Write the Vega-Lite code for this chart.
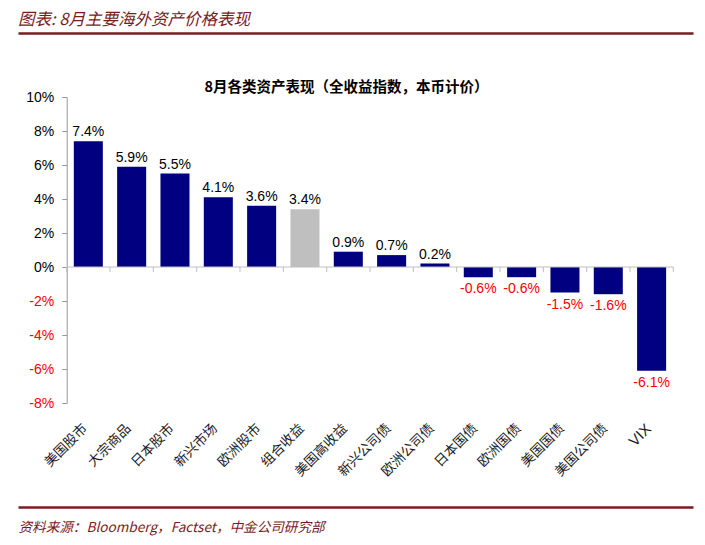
{
  "$schema": "https://vega.github.io/schema/vega-lite/v6.json",
  "width": 675,
  "height": 306,
  "autosize": {"type": "none"},
  "padding": {"left": 18, "top": 97, "right": 12, "bottom": 142},
  "background": "white",
  "title": {
    "text": "图表: 8月主要海外资产价格表现",
    "anchor": "start",
    "frame": "group",
    "font": "Noto Sans CJK SC",
    "fontSize": 16.5,
    "fontStyle": "italic",
    "fontWeight": "normal",
    "color": "#7A1B1F",
    "offset": 5
  },
  "data": {
    "values": [
      {"name": "美国股市", "v": 0.074},
      {"name": "大宗商品", "v": 0.059},
      {"name": "日本股市", "v": 0.055},
      {"name": "新兴市场", "v": 0.041},
      {"name": "欧洲股市", "v": 0.036},
      {"name": "组合收益", "v": 0.034},
      {"name": "美国高收益", "v": 0.009},
      {"name": "新兴公司债", "v": 0.007},
      {"name": "欧洲公司债", "v": 0.002},
      {"name": "日本国债", "v": -0.006},
      {"name": "欧洲国债", "v": -0.006},
      {"name": "美国国债", "v": -0.015},
      {"name": "美国公司债", "v": -0.016},
      {"name": "VIX", "v": -0.061}
    ]
  },
  "resolve": {"axis": {"x": "independent"}},
  "layer": [
    {
      "mark": {"type": "bar"},
      "encoding": {
        "x": {
          "field": "name",
          "type": "nominal",
          "sort": null,
          "scale": {
            "domain": ["美国股市", "大宗商品", "日本股市", "新兴市场", "欧洲股市", "组合收益", "美国高收益", "新兴公司债", "欧洲公司债", "日本国债", "欧洲国债", "美国国债", "美国公司债", "VIX"],
            "paddingInner": 0.33,
            "paddingOuter": 0.954,
            "align": 0.675
          },
          "axis": {
            "orient": "bottom",
            "offset": 104,
            "title": "资料来源：Bloomberg，Factset，中金公司研究部",
            "titleX": 0,
            "titleY": 20,
            "titleAlign": "left",
            "titleAnchor": "start",
            "titleBaseline": "middle",
            "titleFont": "Noto Sans CJK SC",
            "titleFontSize": 13.6,
            "titleFontStyle": "italic",
            "titleFontWeight": "normal",
            "titleColor": "#7A1B1F",
            "domainColor": "#7A1B1F",
            "domainWidth": 2.5,
            "ticks": false,
            "tickSize": 0,
            "labelAngle": -45,
            "labelAlign": "right",
            "labelBaseline": "middle",
            "labelPadding": -81,
            "labelOffset": -3,
            "labelFont": {"condition": {"test": "datum.value === 'VIX'", "value": "Liberation Sans"}, "value": "Noto Sans CJK SC"},
            "labelFontSize": {"condition": {"test": "datum.value === 'VIX'", "value": 15}, "value": 13.5},
            "labelColor": "#1a1a1a",
            "labelOverlap": false
          }
        },
        "y": {
          "field": "v",
          "type": "quantitative",
          "scale": {"domain": [-0.08, 0.1], "nice": false, "zero": false},
          "axis": {
            "orient": "left",
            "offset": -48.7,
            "values": [-0.08, -0.06, -0.04, -0.02, 0, 0.02, 0.04, 0.06, 0.08, 0.1],
            "tickCount": 10,
            "labelOverlap": false,
            "labelExpr": "(datum.value < 0 ? '-' : '') + format(abs(datum.value), '.0%')",
            "title": null,
            "grid": false,
            "domainColor": "#999999",
            "tickColor": "#999999",
            "tickSize": 5,
            "labelFont": "Liberation Sans",
            "labelFontSize": 14,
            "labelPadding": 8,
            "labelColor": {"condition": {"test": "datum.value < 0", "value": "#FF0000"}, "value": "#000000"}
          }
        },
        "color": {"condition": {"test": "datum.name === '组合收益'", "value": "#BFBFBF"}, "value": "#000080"}
      }
    },
    {
      "data": {"values": [{}]},
      "mark": {"type": "rule", "color": "#BFBFBF", "strokeWidth": 1},
      "encoding": {
        "x": {"datum": "美国股市", "type": "nominal", "bandPosition": -0.245, "axis": null},
        "x2": {"datum": "VIX", "bandPosition": 1.247},
        "y": {
          "datum": 0,
          "type": "quantitative",
          "axis": {
            "orient": "left",
            "offset": -48.7,
            "values": [-0.08, -0.06, -0.04, -0.02, 0, 0.02, 0.04, 0.06, 0.08, 0.1],
            "tickCount": 10,
            "labelOverlap": false,
            "labelExpr": "(datum.value < 0 ? '-' : '') + format(abs(datum.value), '.0%')",
            "title": null,
            "grid": false,
            "domainColor": "#999999",
            "tickColor": "#999999",
            "tickSize": 5,
            "labelFont": "Liberation Sans",
            "labelFontSize": 14,
            "labelPadding": 8,
            "labelColor": {"condition": {"test": "datum.value < 0", "value": "#FF0000"}, "value": "#000000"}
          }
        }
      }
    },
    {
      "mark": {"type": "rule", "color": "#BFBFBF", "strokeWidth": 1},
      "encoding": {
        "x": {"field": "name", "type": "nominal", "sort": null, "bandPosition": -0.245, "axis": null},
        "y": {
          "datum": 0,
          "type": "quantitative",
          "axis": {
            "orient": "left",
            "offset": -48.7,
            "values": [-0.08, -0.06, -0.04, -0.02, 0, 0.02, 0.04, 0.06, 0.08, 0.1],
            "tickCount": 10,
            "labelOverlap": false,
            "labelExpr": "(datum.value < 0 ? '-' : '') + format(abs(datum.value), '.0%')",
            "title": null,
            "grid": false,
            "domainColor": "#999999",
            "tickColor": "#999999",
            "tickSize": 5,
            "labelFont": "Liberation Sans",
            "labelFontSize": 14,
            "labelPadding": 8,
            "labelColor": {"condition": {"test": "datum.value < 0", "value": "#FF0000"}, "value": "#000000"}
          }
        },
        "y2": {"datum": -0.003}
      }
    },
    {
      "data": {"values": [{}]},
      "mark": {"type": "rule", "color": "#BFBFBF", "strokeWidth": 1},
      "encoding": {
        "x": {"datum": "VIX", "type": "nominal", "bandPosition": 1.247, "axis": null},
        "y": {
          "datum": 0,
          "type": "quantitative",
          "axis": {
            "orient": "left",
            "offset": -48.7,
            "values": [-0.08, -0.06, -0.04, -0.02, 0, 0.02, 0.04, 0.06, 0.08, 0.1],
            "tickCount": 10,
            "labelOverlap": false,
            "labelExpr": "(datum.value < 0 ? '-' : '') + format(abs(datum.value), '.0%')",
            "title": null,
            "grid": false,
            "domainColor": "#999999",
            "tickColor": "#999999",
            "tickSize": 5,
            "labelFont": "Liberation Sans",
            "labelFontSize": 14,
            "labelPadding": 8,
            "labelColor": {"condition": {"test": "datum.value < 0", "value": "#FF0000"}, "value": "#000000"}
          }
        },
        "y2": {"datum": -0.003}
      }
    },
    {
      "transform": [{"filter": "datum.v >= 0"}],
      "mark": {"type": "text", "baseline": "alphabetic", "dy": -5, "font": "Liberation Sans", "fontSize": 14, "color": "#000000"},
      "encoding": {
        "x": {
          "field": "name",
          "type": "nominal",
          "sort": null,
          "axis": {
            "orient": "top",
            "offset": 64,
            "labels": false,
            "ticks": false,
            "domainColor": "#7A1B1F",
            "domainWidth": 2.5,
            "title": "8月各类资产表现（全收益指数，本币计价）",
            "titleX": 328,
            "titleY": 54,
            "titleAlign": "center",
            "titleBaseline": "middle",
            "titleFont": "Noto Sans CJK SC",
            "titleFontSize": 14.5,
            "titleFontWeight": "bold",
            "titleColor": "#000000"
          }
        },
        "y": {
          "field": "v",
          "type": "quantitative",
          "axis": {
            "orient": "left",
            "offset": -48.7,
            "values": [-0.08, -0.06, -0.04, -0.02, 0, 0.02, 0.04, 0.06, 0.08, 0.1],
            "tickCount": 10,
            "labelOverlap": false,
            "labelExpr": "(datum.value < 0 ? '-' : '') + format(abs(datum.value), '.0%')",
            "title": null,
            "grid": false,
            "domainColor": "#999999",
            "tickColor": "#999999",
            "tickSize": 5,
            "labelFont": "Liberation Sans",
            "labelFontSize": 14,
            "labelPadding": 8,
            "labelColor": {"condition": {"test": "datum.value < 0", "value": "#FF0000"}, "value": "#000000"}
          }
        },
        "text": {"field": "v", "type": "quantitative", "format": ".1%"}
      }
    },
    {
      "transform": [{"filter": "datum.v < 0"}],
      "mark": {"type": "text", "baseline": "top", "dy": 5, "font": "Liberation Sans", "fontSize": 14, "color": "#FF0000"},
      "encoding": {
        "x": {"field": "name", "type": "nominal", "sort": null, "axis": null},
        "y": {
          "field": "v",
          "type": "quantitative",
          "axis": {
            "orient": "left",
            "offset": -48.7,
            "values": [-0.08, -0.06, -0.04, -0.02, 0, 0.02, 0.04, 0.06, 0.08, 0.1],
            "tickCount": 10,
            "labelOverlap": false,
            "labelExpr": "(datum.value < 0 ? '-' : '') + format(abs(datum.value), '.0%')",
            "title": null,
            "grid": false,
            "domainColor": "#999999",
            "tickColor": "#999999",
            "tickSize": 5,
            "labelFont": "Liberation Sans",
            "labelFontSize": 14,
            "labelPadding": 8,
            "labelColor": {"condition": {"test": "datum.value < 0", "value": "#FF0000"}, "value": "#000000"}
          }
        },
        "text": {"field": "v", "type": "quantitative", "format": ".1%"}
      }
    }
  ],
  "config": {
    "view": {"stroke": null},
    "locale": {
      "number": {"decimal": ".", "thousands": ",", "grouping": [3], "currency": ["$", ""], "minus": "-"}
    }
  }
}
